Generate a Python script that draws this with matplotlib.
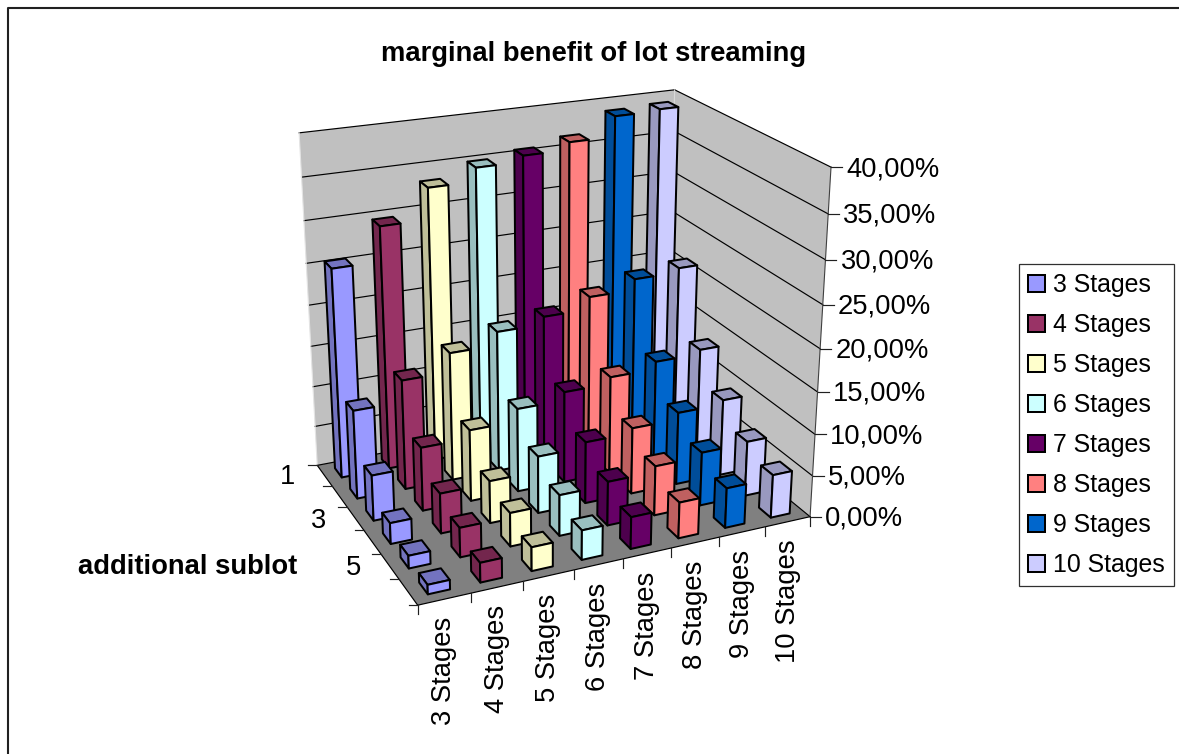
import numpy as np
import matplotlib
matplotlib.use("Agg")
import matplotlib.pyplot as plt
from matplotlib.lines import Line2D
from matplotlib.patches import Patch
from mpl_toolkits.mplot3d import art3d

plt.rcParams["font.family"] = ["Liberation Sans", "DejaVu Sans"]

# Marginal benefit (%) per additional sublot, one list per stage count
stages_3 = [25.5, 10.8, 5.5, 2.5, 1.5, 1.1]
stages_4 = [29.6, 13.4, 7.7, 4.8, 3.5, 2.3]
stages_5 = [33.3, 15.7, 8.7, 5.1, 4.0, 2.8]
stages_6 = [34.9, 17.3, 10.2, 6.9, 4.9, 3.5]
stages_7 = [35.6, 18.2, 11.2, 7.5, 5.3, 3.8]
stages_8 = [36.5, 19.7, 12.0, 8.1, 6.0, 4.3]
stages_9 = [38.9, 21.0, 12.9, 8.9, 6.5, 4.8]
stages_10 = [39.1, 21.5, 13.4, 9.4, 6.7, 5.2]

series_labels = ["3 Stages", "4 Stages", "5 Stages", "6 Stages",
                 "7 Stages", "8 Stages", "9 Stages", "10 Stages"]
series_values = [stages_3, stages_4, stages_5, stages_6,
                 stages_7, stages_8, stages_9, stages_10]
series_colors = ["#9999FF", "#993366", "#FFFFCC", "#CCFFFF",
                 "#660066", "#FF8080", "#0066CC", "#CCCCFF"]
sublot_labels = ["1", "", "3", "", "5", ""]
value_ticks = [0, 5, 10, 15, 20, 25, 30, 35, 40]
value_tick_labels = ["0,00%", "5,00%", "10,00%", "15,00%", "20,00%",
                     "25,00%", "30,00%", "35,00%", "40,00%"]

BAR_W = 0.42
BAR_D = 0.45
TICK_FS = 19.7
BOLD_FS = 19.7
LEGEND_FS = 17.9
BAR_LW = 1.45

# Camera: world (series, sublot, value) to pixel coordinates of the figure
CAMERA = np.array([
    [50.734969, 6.967065, -0.985152, 317.237764],
    [-4.045091, 9.149551, -8.548882, 465.338034],
    [0.01058, -0.023398, -0.00178, 1.0],
])
VIEW = np.vstack([CAMERA[0], CAMERA[1], [0.3, -1.0, 0.1, 0.0], CAMERA[2]])


def to_px(x, y, z):
    h = CAMERA @ np.array([x, y, z, 1.0])
    return h[:2] / h[2]


fig = plt.figure(figsize=(11.79, 7.54), dpi=100, facecolor="white")
ax = fig.add_axes([0, 0, 1, 1], projection="3d", computed_zorder=False)
ax.set_axis_off()
ax.get_proj = lambda: VIEW
ax.apply_aspect = lambda position=None: None

n_cols = len(series_values)
n_rows = len(stages_3)
top = value_ticks[-1]


def add_polys(verts, faces, edges="none", lw=0.0, z=1):
    coll = art3d.Poly3DCollection(verts, facecolors=faces, edgecolors=edges,
                                  linewidths=lw, zorder=z)
    ax.add_collection3d(coll, autolim=False)


def add_line2d(a, b, color="black", lw=0.85, z=2):
    ax.add_artist(Line2D([a[0], b[0]], [a[1], b[1]], color=color, lw=lw,
                         zorder=z, transform=ax.transData))


def add_line3d(a, b, color="black", lw=0.85, z=2):
    add_line2d(to_px(*a), to_px(*b), color=color, lw=lw, z=z)


# Walls and floor
add_polys([[(0, 0, 0), (n_cols, 0, 0), (n_cols, 0, top), (0, 0, top)]], "#C0C0C0")
add_polys([[(n_cols, 0, 0), (n_cols, n_rows, 0), (n_cols, n_rows, top), (n_cols, 0, top)]], "#C0C0C0")
add_polys([[(0, 0, 0), (n_cols, 0, 0), (n_cols, n_rows, 0), (0, n_rows, 0)]], "#808080")

# Gridlines on both walls
for v in value_ticks:
    add_line3d((0, 0, v), (n_cols, 0, v))
    add_line3d((n_cols, 0, v), (n_cols, n_rows, v))
add_line3d((0, 0, 0), (0, 0, top), color="#E4E4E4", lw=0.8)
add_line3d((n_cols, 0, 0), (n_cols, 0, top), color="#DADADA", lw=0.8)
add_line3d((n_cols, n_rows, 0), (n_cols, n_rows, top), color="#404040", lw=0.8)
add_line3d((0, 0, 0), (0, n_rows, 0))
add_line3d((0, n_rows, 0), (n_cols, n_rows, 0))

# Value axis
for v, label in zip(value_ticks, value_tick_labels):
    u, w = to_px(n_cols, n_rows, v)
    add_line2d((u, w), (u + 11, w), color="#202020")
    ax.text2D(u + 15, w + 2, label, transform=ax.transData, fontsize=TICK_FS,
              ha="left", va="center", color="black")

# Series axis
for i in range(n_cols + 1):
    u, w = to_px(i, n_rows, 0)
    add_line2d((u, w), (u, w + 9), color="#202020")
for i, label in enumerate(series_labels):
    u, w = to_px(i + 0.5, n_rows, 0)
    ax.text2D(u, w + 18, label, transform=ax.transData, fontsize=TICK_FS,
              rotation=90, ha="center", va="top", color="black")

# Sublot axis
for j in range(n_rows + 1):
    u, w = to_px(0, j, 0)
    add_line2d((u, w), (u - 9, w), color="#202020")
for j, label in enumerate(sublot_labels):
    if label:
        u, w = to_px(0, j + 0.5, 0)
        ax.text2D(u - 29, w + 2, label, transform=ax.transData, fontsize=TICK_FS,
                  ha="right", va="center", color="black")


def shaded(color, factor=0.75):
    return tuple(c * factor for c in matplotlib.colors.to_rgb(color))


# Bars, painted from the back row forward and from right to left
order = 10
for j in range(n_rows):
    for i in range(n_cols - 1, -1, -1):
        h = series_values[i][j]
        x0, x1 = i + 0.5 - BAR_W / 2, i + 0.5 + BAR_W / 2
        y0, y1 = j + 0.5 - BAR_D / 2, j + 0.5 + BAR_D / 2
        side = [(x0, y0, 0), (x0, y1, 0), (x0, y1, h), (x0, y0, h)]
        cap = [(x0, y0, h), (x1, y0, h), (x1, y1, h), (x0, y1, h)]
        front = [(x0, y1, 0), (x1, y1, 0), (x1, y1, h), (x0, y1, h)]
        col = series_colors[i]
        add_polys([side, cap, front], [shaded(col), shaded(col), col],
                  edges="black", lw=BAR_LW, z=order)
        order += 1

# Headings
ax.text2D(594, 54, "marginal benefit of lot streaming", transform=ax.transData,
          fontsize=BOLD_FS, fontweight="bold", ha="center", va="center")
ax.text2D(297, 567, "additional sublot", transform=ax.transData,
          fontsize=BOLD_FS, fontweight="bold", ha="right", va="center")

# Legend
handles = [Patch(facecolor=c, edgecolor="black", linewidth=BAR_LW, label=l)
           for c, l in zip(series_colors, series_labels)]
leg = fig.legend(handles=handles, loc="upper left",
                 bbox_to_anchor=(1019 / 1179, 1 - 264 / 754), borderaxespad=0,
                 fontsize=LEGEND_FS, fancybox=False, framealpha=1,
                 edgecolor="#303030", borderpad=0.38, labelspacing=0.64,
                 handlelength=0.68, handleheight=0.68, handletextpad=0.3)
leg.get_frame().set_linewidth(0.9)

# Chart area frame (left and top edges fall inside the figure)
ax.add_artist(Line2D([7.5, 7.5, 1179], [754, 7.5, 7.5], color="#202020", lw=1.5,
                     transform=ax.transData, zorder=0))

ax.viewLim.intervalx = (0, 1179)
ax.viewLim.intervaly = (754, 0)

fig.savefig("out.png", dpi=100)
